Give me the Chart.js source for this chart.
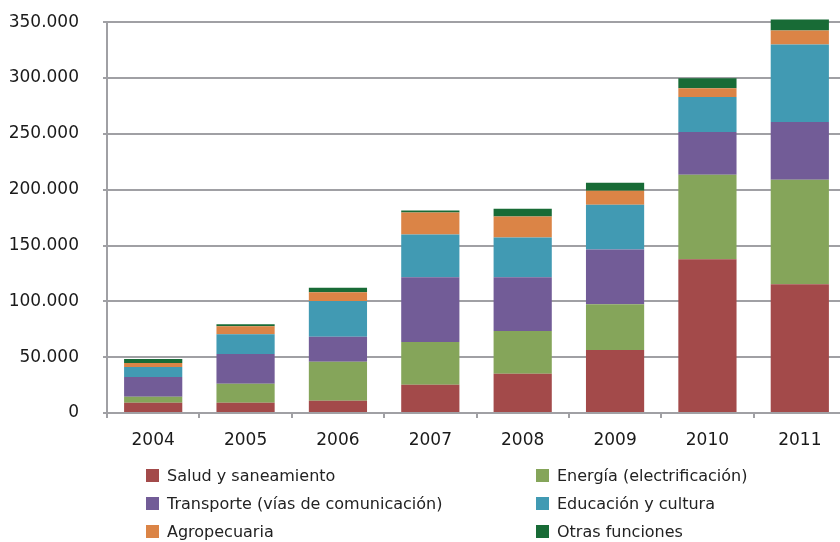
<!DOCTYPE html>
<html>
<head>
<meta charset="utf-8">
<script src="https://cdn.jsdelivr.net/npm/chart.js@4"></script>
<style>
  html, body { margin: 0; padding: 0; background: #fff; overflow: hidden; width: 840px; height: 542px; }
  #wrap { position: absolute; left: 0; top: -12px; width: 848px; height: 554px; }
  #legend { position: absolute; left: 0; top: 0; width: 840px; height: 542px; pointer-events: none;
            font-family: "DejaVu Sans", Verdana, sans-serif; font-size: 16px; color: #222; }
  .li { position: absolute; height: 20px; line-height: 20px; white-space: nowrap; }
  .sw { position: absolute; left: 0; top: 3px; width: 13px; height: 13px; }
  .tx { position: absolute; left: 21px; top: 0; }
</style>
</head>
<body>
<div id="wrap"><canvas id="c" width="848" height="554"></canvas></div>
<div id="legend"></div>
<script>
const years = ['2004','2005','2006','2007','2008','2009','2010','2011'];
const seriesNames = ['Salud y saneamiento','Energía (electrificación)','Transporte (vías de comunicación)','Educación y cultura','Agropecuaria','Otras funciones'];
const salud      = [9200, 9200, 11000, 25300, 35100, 56500, 137600, 115300];
const energia    = [5300, 16900, 34800, 38300, 38300, 41000, 75800, 93600];
const transporte = [17800, 26700, 22600, 58000, 48100, 49000, 38300, 51700];
const educacion  = [8900, 17800, 31800, 38300, 35700, 40100, 31200, 69500];
const agro       = [3600, 7100, 8000, 19600, 18700, 12500, 8000, 12500];
const otras      = [3600, 1800, 3900, 1800, 7100, 7100, 8900, 9800];
const yTicks     = [0, 50000, 100000, 150000, 200000, 250000, 300000, 350000];
const colors = ['#A34A4A','#85A55A','#725C97','#419AB3','#DB8446','#186B36'];

const seriesData = [salud, energia, transporte, educacion, agro, otras];
const datasets = seriesData.map((d, i) => ({
  label: seriesNames[i],
  data: d,
  backgroundColor: colors[i],
  borderWidth: 0,
  clip: false,
  categoryPercentage: 1.0,
  barPercentage: 0.63
}));

const fmt = v => String(v).replace(/\B(?=(\d{3})+(?!\d))/g, '.');
const gridColor = '#a0a0a4';

new Chart(document.getElementById('c'), {
  type: 'bar',
  data: { labels: years, datasets },
  options: {
    responsive: false,
    animation: false,
    layout: { padding: { top: 4, right: 2, left: 0, bottom: 0 } },
    plugins: { legend: { display: false }, tooltip: { enabled: false } },
    scales: {
      x: {
        stacked: true,
        offset: true,
        grid: { offset: true, drawOnChartArea: false, drawTicks: true, tickLength: 5, color: gridColor, lineWidth: 2 },
        border: { display: true, color: gridColor, width: 2 },
        ticks: { color: '#1a1a1a', font: { family: 'DejaVu Sans', size: 17 }, padding: 12, maxRotation: 0 },
        afterFit: s => { s.height = 129; }
      },
      y: {
        stacked: true,
        min: 0, max: 350000,
        afterBuildTicks: s => { s.ticks = yTicks.map(v => ({ value: v })); },
        grid: { drawTicks: true, tickLength: 4, color: gridColor, lineWidth: 2 },
        border: { display: true, color: gridColor, width: 2 },
        ticks: { color: '#1a1a1a', font: { family: 'DejaVu Sans', size: 17 }, padding: 24, callback: v => fmt(v) },
        afterFit: s => { s.width = 107; }
      }
    }
  }
});

// HTML legend built from the series arrays (two columns, three rows)
const leg = document.getElementById('legend');
const colX = [146, 536];
const rowY = [466, 494, 522];
seriesNames.forEach((name, i) => {
  const el = document.createElement('div');
  el.className = 'li';
  el.style.left = colX[i % 2] + 'px';
  el.style.top = rowY[Math.floor(i / 2)] + 'px';
  el.innerHTML = '<span class="sw" style="background:' + colors[i] + '"></span><span class="tx"></span>';
  el.querySelector('.tx').textContent = name;
  leg.appendChild(el);
});
</script>
</body>
</html>
